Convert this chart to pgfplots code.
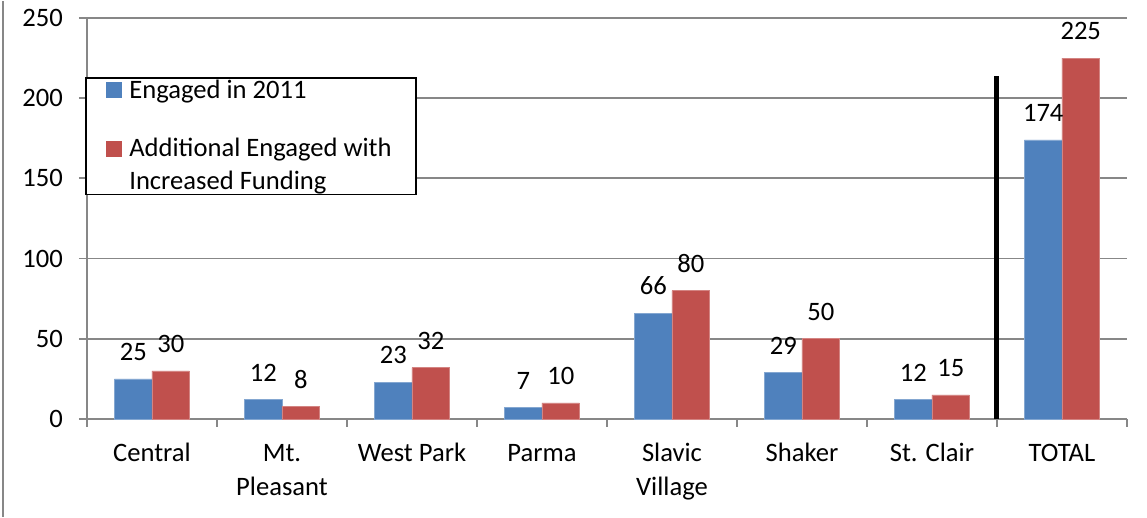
\documentclass[border=0pt]{standalone}
\usepackage{fontspec}
\setmainfont{Carlito}
\usepackage{pgfplots}
\usepackage{pgfplotstable}
\pgfplotsset{compat=1.18}
\definecolor{xlblue}{HTML}{4F81BD}
\definecolor{xlred}{HTML}{C0504D}
\definecolor{axgray}{HTML}{878787}

% engaged in 2011 / additional with increased funding
\pgfplotstableread{
x v2011 vadd
0 25 30
1 12 8
2 23 32
3 7 10
4 66 80
5 29 50
6 12 15
7 174 225
}\engaged

\newcommand{\chartfont}{\fontsize{13.3}{17}\selectfont}

\begin{document}
\begin{tikzpicture}
\begin{axis}[
    scale only axis,
    width=520pt, height=200.5pt,
    ybar=0pt, bar width=18.75pt,
    xmin=-0.5, xmax=7.5,
    ymin=0, ymax=250,
    ytick={0,50,...,250},
    xtick={0,...,7},
    xticklabels={\strut Central,{\strut Mt.\\Pleasant},\strut West Park,\strut Parma,{\strut Slavic\\Village},\strut Shaker,\strut St. Clair,\strut TOTAL},
    minor xtick={-0.5,0.5,...,7.5},
    axis x line*=bottom, axis y line*=left,
    axis line style={axgray, line width=0.9pt, -},
    x axis line style={-}, y axis line style={-},
    tick align=outside,
    major x tick style={draw=none},
    minor x tick style={axgray, line width=0.9pt},
    major y tick style={axgray, line width=0.9pt},
    major tick length=4pt, minor tick length=4pt,
    ymajorgrids, major grid style={axgray, line width=0.9pt},
    tick label style={font=\chartfont},
    /pgf/number format/assume math mode=true,
    xticklabel style={align=center, yshift=-2pt},
    yticklabel style={xshift=-4.5pt},
    nodes near coords,
    every node near coord/.append style={font=\chartfont, black, yshift=5.5pt},
    legend style={at={(-0.002,0.853)}, anchor=north west, draw=black, fill=white, line width=0.8pt,
        font=\fontsize{13.3}{16.5}\selectfont, inner xsep=10pt, inner ysep=-1pt, row sep=14.5pt, column sep=2pt,
        cells={anchor=base west, align=left, inner ysep=1pt}},
    clip=false,
]
\addplot[fill=xlblue, draw=xlblue!70!white, line width=0.3pt,
    legend image code/.code={\fill[xlblue] (2.5pt,0.3pt) rectangle (10pt,7.8pt);}]
    table[x=x, y=v2011] {\engaged};
\addlegendentry{Engaged in 2011}
\addplot[fill=xlred, draw=xlred!70!white, line width=0.3pt,
    legend image code/.code={\fill[xlred] (2.5pt,16.8pt) rectangle (10pt,24.3pt);}]
    table[x=x, y=vadd] {\engaged};
\addlegendentry{Additional Engaged with\\Increased Funding}
% separator before the total
\addplot[black, line width=2.5pt, sharp plot, nodes near coords={}, forget plot, bar shift=0pt]
    coordinates {(6.5,0) (6.5,214)};
\end{axis}
\draw[axgray, line width=1pt] (-42pt,-49pt) -- (-42pt,209pt);
\path[use as bounding box] (-43.5pt,-49pt) rectangle (530pt,209pt);
\end{tikzpicture}
\end{document}
